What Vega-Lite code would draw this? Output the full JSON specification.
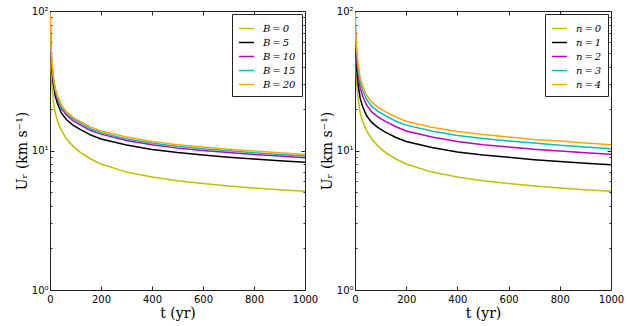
{
  "$schema": "https://vega.github.io/schema/vega-lite/v6.json",
  "padding": {"left": 14, "top": 5, "right": 0, "bottom": 0},
  "spacing": 0,
  "datasets": {
    "left": [
      {"s":"B = 0","t":0.5,"U":95},{"s":"B = 0","t":1,"U":72},{"s":"B = 0","t":2,"U":53},{"s":"B = 0","t":4,"U":39},{"s":"B = 0","t":7,"U":30},{"s":"B = 0","t":12,"U":23.5},{"s":"B = 0","t":20,"U":18.8},{"s":"B = 0","t":30,"U":16.1},{"s":"B = 0","t":45,"U":13.9},{"s":"B = 0","t":65,"U":12.1},{"s":"B = 0","t":90,"U":10.75},{"s":"B = 0","t":120,"U":9.67},{"s":"B = 0","t":160,"U":8.69},{"s":"B = 0","t":200,"U":8.0},{"s":"B = 0","t":300,"U":7.0},{"s":"B = 0","t":400,"U":6.45},{"s":"B = 0","t":500,"U":6.07},{"s":"B = 0","t":600,"U":5.8},{"s":"B = 0","t":700,"U":5.57},{"s":"B = 0","t":800,"U":5.39},{"s":"B = 0","t":900,"U":5.24},{"s":"B = 0","t":1000,"U":5.1},
      {"s":"B = 5","t":0.5,"U":97},{"s":"B = 5","t":1,"U":80},{"s":"B = 5","t":2,"U":63},{"s":"B = 5","t":4,"U":49},{"s":"B = 5","t":7,"U":39},{"s":"B = 5","t":12,"U":31},{"s":"B = 5","t":20,"U":24.8},{"s":"B = 5","t":30,"U":21.5},{"s":"B = 5","t":45,"U":18.5},{"s":"B = 5","t":65,"U":16.6},{"s":"B = 5","t":90,"U":15.2},{"s":"B = 5","t":120,"U":14.1},{"s":"B = 5","t":160,"U":12.9},{"s":"B = 5","t":200,"U":12.1},{"s":"B = 5","t":300,"U":10.94},{"s":"B = 5","t":400,"U":10.18},{"s":"B = 5","t":500,"U":9.67},{"s":"B = 5","t":600,"U":9.3},{"s":"B = 5","t":700,"U":8.96},{"s":"B = 5","t":800,"U":8.68},{"s":"B = 5","t":900,"U":8.44},{"s":"B = 5","t":1000,"U":8.22},
      {"s":"B = 10","t":0.5,"U":97},{"s":"B = 10","t":1,"U":81.6},{"s":"B = 10","t":2,"U":65.5},{"s":"B = 10","t":4,"U":51.9},{"s":"B = 10","t":7,"U":42.1},{"s":"B = 10","t":12,"U":33.5},{"s":"B = 10","t":20,"U":26.8},{"s":"B = 10","t":30,"U":23.2},{"s":"B = 10","t":45,"U":20.0},{"s":"B = 10","t":65,"U":17.9},{"s":"B = 10","t":90,"U":16.4},{"s":"B = 10","t":120,"U":15.2},{"s":"B = 10","t":160,"U":13.9},{"s":"B = 10","t":200,"U":13.1},{"s":"B = 10","t":300,"U":11.8},{"s":"B = 10","t":400,"U":11.0},{"s":"B = 10","t":500,"U":10.4},{"s":"B = 10","t":600,"U":10.0},{"s":"B = 10","t":700,"U":9.68},{"s":"B = 10","t":800,"U":9.37},{"s":"B = 10","t":900,"U":9.12},{"s":"B = 10","t":1000,"U":8.88},
      {"s":"B = 15","t":0.5,"U":97},{"s":"B = 15","t":1,"U":82.4},{"s":"B = 15","t":2,"U":66.8},{"s":"B = 15","t":4,"U":52.9},{"s":"B = 15","t":7,"U":43.3},{"s":"B = 15","t":12,"U":34.4},{"s":"B = 15","t":20,"U":27.5},{"s":"B = 15","t":30,"U":23.9},{"s":"B = 15","t":45,"U":20.5},{"s":"B = 15","t":65,"U":18.4},{"s":"B = 15","t":90,"U":16.9},{"s":"B = 15","t":120,"U":15.7},{"s":"B = 15","t":160,"U":14.3},{"s":"B = 15","t":200,"U":13.4},{"s":"B = 15","t":300,"U":12.1},{"s":"B = 15","t":400,"U":11.3},{"s":"B = 15","t":500,"U":10.7},{"s":"B = 15","t":600,"U":10.3},{"s":"B = 15","t":700,"U":9.95},{"s":"B = 15","t":800,"U":9.63},{"s":"B = 15","t":900,"U":9.37},{"s":"B = 15","t":1000,"U":9.12},
      {"s":"B = 20","t":0.5,"U":97},{"s":"B = 20","t":1,"U":83.2},{"s":"B = 20","t":2,"U":68.0},{"s":"B = 20","t":4,"U":54.4},{"s":"B = 20","t":7,"U":44.5},{"s":"B = 20","t":12,"U":35.3},{"s":"B = 20","t":20,"U":28.3},{"s":"B = 20","t":30,"U":24.5},{"s":"B = 20","t":45,"U":21.1},{"s":"B = 20","t":65,"U":18.9},{"s":"B = 20","t":90,"U":17.3},{"s":"B = 20","t":120,"U":16.1},{"s":"B = 20","t":160,"U":14.7},{"s":"B = 20","t":200,"U":13.8},{"s":"B = 20","t":300,"U":12.5},{"s":"B = 20","t":400,"U":11.6},{"s":"B = 20","t":500,"U":11.0},{"s":"B = 20","t":600,"U":10.6},{"s":"B = 20","t":700,"U":10.2},{"s":"B = 20","t":800,"U":9.9},{"s":"B = 20","t":900,"U":9.62},{"s":"B = 20","t":1000,"U":9.37}
    ],
    "right": [
      {"s":"n = 0","t":0.5,"U":95},{"s":"n = 0","t":1,"U":72},{"s":"n = 0","t":2,"U":53},{"s":"n = 0","t":4,"U":39},{"s":"n = 0","t":7,"U":30},{"s":"n = 0","t":12,"U":23.5},{"s":"n = 0","t":20,"U":18.8},{"s":"n = 0","t":30,"U":16.1},{"s":"n = 0","t":45,"U":13.9},{"s":"n = 0","t":65,"U":12.1},{"s":"n = 0","t":90,"U":10.75},{"s":"n = 0","t":120,"U":9.67},{"s":"n = 0","t":160,"U":8.69},{"s":"n = 0","t":200,"U":8.0},{"s":"n = 0","t":300,"U":7.0},{"s":"n = 0","t":400,"U":6.45},{"s":"n = 0","t":500,"U":6.07},{"s":"n = 0","t":600,"U":5.8},{"s":"n = 0","t":700,"U":5.57},{"s":"n = 0","t":800,"U":5.39},{"s":"n = 0","t":900,"U":5.24},{"s":"n = 0","t":1000,"U":5.1},
      {"s":"n = 1","t":0.5,"U":93},{"s":"n = 1","t":1,"U":76.8},{"s":"n = 1","t":2,"U":60.5},{"s":"n = 1","t":4,"U":47.0},{"s":"n = 1","t":7,"U":37.4},{"s":"n = 1","t":12,"U":29.8},{"s":"n = 1","t":20,"U":23.8},{"s":"n = 1","t":30,"U":20.6},{"s":"n = 1","t":45,"U":17.8},{"s":"n = 1","t":65,"U":15.9},{"s":"n = 1","t":90,"U":14.6},{"s":"n = 1","t":120,"U":13.5},{"s":"n = 1","t":160,"U":12.4},{"s":"n = 1","t":200,"U":11.6},{"s":"n = 1","t":300,"U":10.5},{"s":"n = 1","t":400,"U":9.77},{"s":"n = 1","t":500,"U":9.28},{"s":"n = 1","t":600,"U":8.93},{"s":"n = 1","t":700,"U":8.6},{"s":"n = 1","t":800,"U":8.33},{"s":"n = 1","t":900,"U":8.1},{"s":"n = 1","t":1000,"U":7.89},
      {"s":"n = 2","t":0.5,"U":95},{"s":"n = 2","t":1,"U":80.6},{"s":"n = 2","t":2,"U":66.6},{"s":"n = 2","t":4,"U":54.1},{"s":"n = 2","t":7,"U":44.5},{"s":"n = 2","t":12,"U":35.5},{"s":"n = 2","t":20,"U":28.3},{"s":"n = 2","t":30,"U":24.5},{"s":"n = 2","t":45,"U":21.2},{"s":"n = 2","t":65,"U":18.9},{"s":"n = 2","t":90,"U":17.4},{"s":"n = 2","t":120,"U":16.1},{"s":"n = 2","t":160,"U":14.8},{"s":"n = 2","t":200,"U":13.8},{"s":"n = 2","t":300,"U":12.5},{"s":"n = 2","t":400,"U":11.6},{"s":"n = 2","t":500,"U":11.0},{"s":"n = 2","t":600,"U":10.6},{"s":"n = 2","t":700,"U":10.2},{"s":"n = 2","t":800,"U":9.91},{"s":"n = 2","t":900,"U":9.64},{"s":"n = 2","t":1000,"U":9.39},
      {"s":"n = 3","t":0.5,"U":96},{"s":"n = 3","t":1,"U":82.2},{"s":"n = 3","t":2,"U":69.6},{"s":"n = 3","t":4,"U":58.3},{"s":"n = 3","t":7,"U":49.0},{"s":"n = 3","t":12,"U":39.0},{"s":"n = 3","t":20,"U":31.2},{"s":"n = 3","t":30,"U":27.0},{"s":"n = 3","t":45,"U":23.3},{"s":"n = 3","t":65,"U":20.8},{"s":"n = 3","t":90,"U":19.1},{"s":"n = 3","t":120,"U":17.7},{"s":"n = 3","t":160,"U":16.2},{"s":"n = 3","t":200,"U":15.2},{"s":"n = 3","t":300,"U":13.8},{"s":"n = 3","t":400,"U":12.8},{"s":"n = 3","t":500,"U":12.2},{"s":"n = 3","t":600,"U":11.7},{"s":"n = 3","t":700,"U":11.3},{"s":"n = 3","t":800,"U":10.9},{"s":"n = 3","t":900,"U":10.6},{"s":"n = 3","t":1000,"U":10.3},
      {"s":"n = 4","t":0.5,"U":97},{"s":"n = 4","t":1,"U":84.5},{"s":"n = 4","t":2,"U":72.6},{"s":"n = 4","t":4,"U":61.1},{"s":"n = 4","t":7,"U":52.4},{"s":"n = 4","t":12,"U":41.7},{"s":"n = 4","t":20,"U":33.3},{"s":"n = 4","t":30,"U":28.8},{"s":"n = 4","t":45,"U":24.9},{"s":"n = 4","t":65,"U":22.3},{"s":"n = 4","t":90,"U":20.4},{"s":"n = 4","t":120,"U":18.9},{"s":"n = 4","t":160,"U":17.4},{"s":"n = 4","t":200,"U":16.2},{"s":"n = 4","t":300,"U":14.7},{"s":"n = 4","t":400,"U":13.7},{"s":"n = 4","t":500,"U":13.0},{"s":"n = 4","t":600,"U":12.5},{"s":"n = 4","t":700,"U":12.0},{"s":"n = 4","t":800,"U":11.7},{"s":"n = 4","t":900,"U":11.3},{"s":"n = 4","t":1000,"U":11.0}
    ]
  },
  "hconcat": [
    {
      "width": 255, "height": 279,
      "data": {"name": "left"},
      "layer": [
        {
          "mark": {"type": "line", "strokeWidth": 1.5, "clip": true},
          "encoding": {
            "x": {"field": "t", "type": "quantitative", "scale": {"domain": [0, 1000], "nice": false},
                  "axis": {"title": "t (yr)", "values": [0,200,400,600,800,1000], "format": "d", "labelFlush": false, "tickSize": -4, "labelPadding": 8, "titlePadding": 2}},
            "y": {"field": "U", "type": "quantitative", "scale": {"type": "log", "domain": [1, 100], "nice": false},
                  "axis": {"title": "Uᵣ (km s⁻¹)", "values": [1,2,3,4,5,6,7,8,9,10,20,30,40,50,60,70,80,90,100],
                           "labelExpr": "datum.value == 1 ? '10⁰' : datum.value == 10 ? '10¹' : datum.value == 100 ? '10²' : ''",
                           "tickSize": {"condition": {"test": "datum.value == 1 || datum.value == 10 || datum.value == 100", "value": -4}, "value": -2},
                           "labelPadding": 6, "titlePadding": 2}},
            "color": {"field": "s", "type": "nominal",
                      "scale": {"domain": ["B = 0","B = 5","B = 10","B = 15","B = 20"], "range": ["#bfbf00","#000000","#bf00bf","#00bfbf","#ffa500"]},
                      "legend": {"title": null, "orient": "top-right", "offset": 3,
                                 "labelExpr": "replace(datum.label, / /g, '\u2009')"}}
          }
        },
        {
          "mark": {"type": "line", "opacity": 0},
          "encoding": {
            "x": {"field": "t", "type": "quantitative", "scale": {"domain": [0, 1000], "nice": false},
                  "axis": {"orient": "top", "title": null, "labels": false, "values": [0,200,400,600,800,1000], "tickSize": -4}},
            "y": {"field": "U", "type": "quantitative", "scale": {"type": "log", "domain": [1, 100], "nice": false},
                  "axis": {"orient": "right", "title": null, "labels": false, "values": [1,2,3,4,5,6,7,8,9,10,20,30,40,50,60,70,80,90,100],
                           "tickSize": {"condition": {"test": "datum.value == 1 || datum.value == 10 || datum.value == 100", "value": -4}, "value": -2}}},
            "detail": {"field": "s"}
          }
        }
      ],
      "resolve": {"axis": {"x": "independent", "y": "independent"}}
    },
    {
      "width": 256, "height": 279,
      "data": {"name": "right"},
      "layer": [
        {
          "mark": {"type": "line", "strokeWidth": 1.5, "clip": true},
          "encoding": {
            "x": {"field": "t", "type": "quantitative", "scale": {"domain": [0, 1000], "nice": false},
                  "axis": {"title": "t (yr)", "values": [0,200,400,600,800,1000], "format": "d", "labelFlush": false, "tickSize": -4, "labelPadding": 8, "titlePadding": 2}},
            "y": {"field": "U", "type": "quantitative", "scale": {"type": "log", "domain": [1, 100], "nice": false},
                  "axis": {"title": "Uᵣ (km s⁻¹)", "values": [1,2,3,4,5,6,7,8,9,10,20,30,40,50,60,70,80,90,100],
                           "labelExpr": "datum.value == 1 ? '10⁰' : datum.value == 10 ? '10¹' : datum.value == 100 ? '10²' : ''",
                           "tickSize": {"condition": {"test": "datum.value == 1 || datum.value == 10 || datum.value == 100", "value": -4}, "value": -2},
                           "labelPadding": 6, "titlePadding": 2}},
            "color": {"field": "s", "type": "nominal",
                      "scale": {"domain": ["n = 0","n = 1","n = 2","n = 3","n = 4"], "range": ["#bfbf00","#000000","#bf00bf","#00bfbf","#ffa500"]},
                      "legend": {"title": null, "orient": "top-right", "offset": 3,
                                 "labelExpr": "replace(datum.label, / /g, '\u2009')"}}
          }
        },
        {
          "mark": {"type": "line", "opacity": 0},
          "encoding": {
            "x": {"field": "t", "type": "quantitative", "scale": {"domain": [0, 1000], "nice": false},
                  "axis": {"orient": "top", "title": null, "labels": false, "values": [0,200,400,600,800,1000], "tickSize": -4}},
            "y": {"field": "U", "type": "quantitative", "scale": {"type": "log", "domain": [1, 100], "nice": false},
                  "axis": {"orient": "right", "title": null, "labels": false, "values": [1,2,3,4,5,6,7,8,9,10,20,30,40,50,60,70,80,90,100],
                           "tickSize": {"condition": {"test": "datum.value == 1 || datum.value == 10 || datum.value == 100", "value": -4}, "value": -2}}},
            "detail": {"field": "s"}
          }
        }
      ],
      "resolve": {"axis": {"x": "independent", "y": "independent"}}
    }
  ],
  "resolve": {"scale": {"color": "independent"}},
  "config": {
    "view": {"stroke": "#222", "strokeWidth": 1},
    "axis": {"domain": false, "grid": false, "labelFont": "DejaVu Sans", "labelFontSize": 10, "labelColor": "#000",
             "titleFont": "DejaVu Serif", "titleFontSize": 14, "titleFontWeight": "normal", "titleColor": "#000", "tickColor": "#222", "tickWidth": 1},
    "legend": {"strokeColor": "#222", "fillColor": "#ffffff", "padding": 6, "labelFont": "DejaVu Serif", "labelFontStyle": "italic",
               "labelFontSize": 10, "labelColor": "#000", "symbolType": "stroke", "symbolSize": 225, "symbolStrokeWidth": 1.5, "rowPadding": -2, "labelOffset": 8, "cornerRadius": 0}
  }
}
